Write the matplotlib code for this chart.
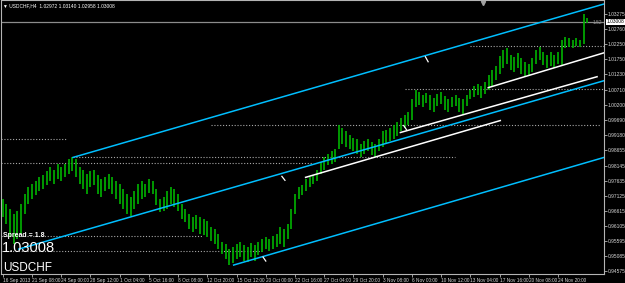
import numpy as np
import matplotlib.pyplot as plt
from matplotlib import transforms

# USDCHF H4 bars (two H4 bars per drawn bar)
highs = [0.9700, 0.9683, 0.9667, 0.9650, 0.9660, 0.9683, 0.9717, 0.9741, 0.9751, 0.9761,
         0.9774, 0.9781, 0.9795, 0.9808, 0.9801, 0.9818, 0.9808, 0.9818, 0.9835, 0.9845,
         0.9835, 0.9808, 0.9801, 0.9785, 0.9795, 0.9801, 0.9781, 0.9768, 0.9774, 0.9785,
         0.9774, 0.9761, 0.9751, 0.9734, 0.9717, 0.9707, 0.9727, 0.9751, 0.9761, 0.9751,
         0.9768, 0.9761, 0.9734, 0.9700, 0.9707, 0.9727, 0.9741, 0.9734, 0.9717, 0.9683,
         0.9667, 0.9650, 0.9640, 0.9646, 0.9640, 0.9633, 0.9626, 0.9606, 0.9599, 0.9582,
         0.9555, 0.9549, 0.9532, 0.9538, 0.9549, 0.9555, 0.9545, 0.9538, 0.9552, 0.9545,
         0.9555, 0.9565, 0.9572, 0.9565, 0.9576, 0.9582, 0.9606, 0.9599, 0.9616, 0.9667,
         0.9717, 0.9741, 0.9748, 0.9768, 0.9774, 0.9781, 0.9801, 0.9828, 0.9842, 0.9852,
         0.9862, 0.9869, 0.9950, 0.9943, 0.9930, 0.9919, 0.9909, 0.9903, 0.9886, 0.9896,
         0.9903, 0.9893, 0.9886, 0.9903, 0.9930, 0.9936, 0.9943, 0.9953, 0.9963, 0.9977,
         0.9987, 0.9997, 1.0038, 1.0071, 1.0064, 1.0054, 1.0061, 1.0054, 1.0044, 1.0058,
         1.0064, 1.0051, 1.0038, 1.0048, 1.0054, 1.0044, 1.0038, 1.0054, 1.0071, 1.0085,
         1.0091, 1.0085, 1.0098, 1.0122, 1.0139, 1.0152, 1.0186, 1.0206, 1.0213, 1.0189,
         1.0183, 1.0196, 1.0179, 1.0166, 1.0159, 1.0179, 1.0206, 1.0216, 1.0199, 1.0189,
         1.0199, 1.0189, 1.0199, 1.0240, 1.0250, 1.0247, 1.0240, 1.0247, 1.0240, 1.0327,
         1.0314]
lows = [0.9640, 0.9616, 0.9572, 0.9549, 0.9565, 0.9582, 0.9650, 0.9683, 0.9700, 0.9714,
        0.9727, 0.9734, 0.9748, 0.9761, 0.9751, 0.9768, 0.9761, 0.9774, 0.9785, 0.9795,
        0.9774, 0.9751, 0.9734, 0.9717, 0.9741, 0.9748, 0.9717, 0.9707, 0.9727, 0.9734,
        0.9717, 0.9700, 0.9683, 0.9667, 0.9650, 0.9643, 0.9667, 0.9683, 0.9700, 0.9707,
        0.9721, 0.9717, 0.9680, 0.9656, 0.9660, 0.9667, 0.9683, 0.9673, 0.9660, 0.9633,
        0.9623, 0.9599, 0.9589, 0.9599, 0.9582, 0.9579, 0.9572, 0.9559, 0.9549, 0.9532,
        0.9515, 0.9498, 0.9478, 0.9484, 0.9498, 0.9505, 0.9491, 0.9488, 0.9505, 0.9491,
        0.9511, 0.9522, 0.9532, 0.9525, 0.9532, 0.9538, 0.9549, 0.9538, 0.9565, 0.9599,
        0.9650, 0.9700, 0.9714, 0.9727, 0.9741, 0.9751, 0.9761, 0.9785, 0.9801, 0.9815,
        0.9818, 0.9828, 0.9869, 0.9886, 0.9876, 0.9869, 0.9862, 0.9852, 0.9842, 0.9852,
        0.9862, 0.9849, 0.9845, 0.9862, 0.9876, 0.9886, 0.9896, 0.9903, 0.9916, 0.9930,
        0.9943, 0.9953, 0.9970, 1.0011, 1.0021, 1.0011, 1.0027, 1.0004, 0.9997, 1.0017,
        1.0024, 1.0004, 0.9994, 1.0011, 1.0017, 0.9997, 0.9990, 1.0017, 1.0038, 1.0048,
        1.0054, 1.0044, 1.0058, 1.0071, 1.0085, 1.0105, 1.0125, 1.0145, 1.0159, 1.0139,
        1.0132, 1.0145, 1.0125, 1.0115, 1.0118, 1.0132, 1.0159, 1.0172, 1.0155, 1.0145,
        1.0152, 1.0145, 1.0159, 1.0152, 1.0213, 1.0216, 1.0213, 1.0219, 1.0216, 1.0226,
        1.0296]

price_ticks = [0.94575, 0.95085, 0.95595, 0.96105, 0.96615, 0.97125, 0.97635, 0.98145,
               0.98655, 0.99180, 0.99690, 1.00200, 1.00710, 1.01230, 1.01750, 1.02250,
               1.02760, 1.03275]
date_labels = ['16 Sep 2013', '21 Sep 08:00', '24 Sep 00:00', '28 Sep 12:00', '1 Oct 04:00',
               '5 Oct 16:00', '8 Oct 08:00', '12 Oct 20:00', '15 Oct 12:00', '20 Oct 00:00',
               '22 Oct 16:00', '27 Oct 04:00', '29 Oct 20:00', '3 Nov 08:00', '6 Nov 00:00',
               '10 Nov 12:00', '13 Nov 04:00', '17 Nov 16:00', '20 Nov 08:00', '24 Nov 20:00']

bid = 1.03008
header = '\u25bc USDCHF,H4  1.02972 1.03140 1.02958 1.03008'

# chart objects: (bar, price) anchors
blue_lines = [((39.4, 0.98419), (330.2, 1.03612)),
              ((9.8, 0.95317), (330.2, 1.01016)),
              ((127.4, 0.94777), (330.2, 0.98419))]
white_lines = [((166.8, 0.97745), (273.4, 0.99667)),
               ((218.7, 0.99262), (326.4, 1.01151)),
               ((266.8, 1.00780), (330.2, 1.01960))]
# horizontal dotted levels: price, from bar, to bar
levels = [(1.02196, 257.0, 330.2), (1.00746, 221.4, 330.2), (0.99532, 114.8, 328.0),
          (0.99026, 0.0, 35.5), (0.98419, 39.4, 248.8), (0.98217, 0.0, 171.0),
          (0.95755, 0.0, 110.4), (0.95249, 0.0, 143.0)]
marks = [((153.8, 0.97779), (155.5, 0.97644)), ((232.4, 1.01825), (233.9, 1.01657)),
         ((143.5, 0.95047), (145.0, 0.94912)), ((220.5, 0.99498), (222.0, 0.99363))]

x = np.arange(len(highs)) * 2 + 1

fig = plt.figure(figsize=(6.25, 2.83), dpi=100, facecolor='black')
ax = fig.add_axes([1 / 625, 9 / 283, 603 / 625, 274 / 283])
ax.set_facecolor('black')
ax.set_xlim(0, 330.2)
ax.set_ylim(0.94474, 1.03747)

small = 'Liberation Sans'
dot = (0, (1, 1.6))

for p, a, b in levels:
    ax.plot([a, b], [p, p], color='#a8a8a8', lw=0.8, ls=dot)
ax.axhline(bid, color='#8c8c8c', lw=0.9)

ax.vlines(x, lows, highs, color='#00b400', lw=1.2)

for (x0, y0), (x1, y1) in blue_lines:
    ax.plot([x0, x1], [y0, y1], color='#00bfff', lw=1.1)
for (x0, y0), (x1, y1) in white_lines:
    ax.plot([x0, x1], [y0, y1], color='white', lw=1.1)
for (x0, y0), (x1, y1) in marks:
    ax.plot([x0, x1], [y0, y1], color='white', lw=0.9)

for s in ax.spines.values():
    s.set_color('#b4b4b4')
    s.set_linewidth(0.8)

ax.yaxis.tick_right()
ax.set_yticks(price_ticks)
ax.set_yticklabels([f'{t:.5f}' for t in price_ticks], family=small, fontsize=3.5, color='#d8d8d8')
ax.tick_params(axis='y', length=2, width=0.6, color='#b4b4b4', pad=0.8)

ax.set_xticks([1 + 16 * k for k in range(len(date_labels))])
ax.set_xticklabels(date_labels, family=small, fontsize=3.4, color='#d8d8d8', ha='left')
ax.tick_params(axis='x', length=2, width=0.6, color='#b4b4b4', pad=0.6)

tr = transforms.blended_transform_factory(ax.transAxes, ax.transData)
ax.text(1.0045, bid, f'{bid:.5f}', transform=tr, family=small, fontsize=3.5, color='black',
        va='center', ha='left', bbox=dict(boxstyle='square,pad=0.12', fc='white', ec='none'),
        clip_on=False)
ax.text(0.981, bid - 0.0003, '1.52', transform=tr, family=small, fontsize=3.4, color='#9a9a9a',
        va='center', ha='left')

ax.text(0.004, 0.988, header, transform=ax.transAxes, family=small, fontsize=3.5,
        color='white', va='top', ha='left')
ax.text(0.004, 0.14, 'Spread = 1.8', transform=ax.transAxes, family=small,
        fontsize=5, fontweight='bold', color='white', va='center')
ax.text(0.002, 0.095, '1.03008', transform=ax.transAxes, family=small,
        fontsize=10.5, color='white', va='center')
ax.text(0.004, 0.022, 'USDCHF', transform=ax.transAxes, family=small,
        fontsize=8.5, color='white', va='center')
ax.plot([0.80], [0.99], marker='v', ms=3, color='#a0a0a0', transform=ax.transAxes,
        clip_on=False)

fig.savefig('out.png', dpi=100, facecolor='black')
